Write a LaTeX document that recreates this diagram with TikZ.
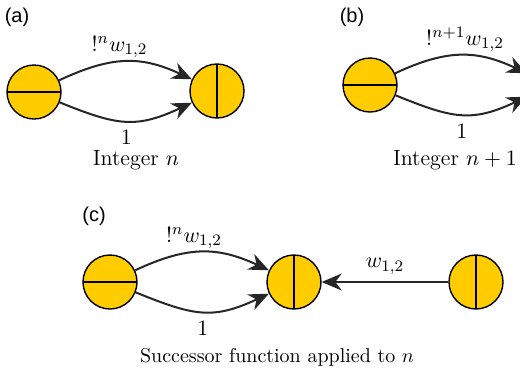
\documentclass[tikz,border=0pt]{standalone}
\usepackage{amsmath}
\usepackage{fontspec}
\newfontfamily\panelfont{Liberation Sans}
\usepackage{tikz}
\usetikzlibrary{arrows.meta}
\definecolor{nodegold}{RGB}{255,204,0}

\tikzset{
  hsplit/.style={circle,draw,line width=0.7pt,fill=nodegold,minimum size=27pt,inner sep=0pt,
    path picture={\draw[line width=0.7pt] (path picture bounding box.west) -- (path picture bounding box.east);}},
  vsplit/.style={circle,draw,line width=0.7pt,fill=nodegold,minimum size=27pt,inner sep=0pt,
    path picture={\draw[line width=0.7pt] (path picture bounding box.north) -- (path picture bounding box.south);}},
  link/.style={-{Stealth[length=10pt,width=8.5pt,inset=3.2pt]},line width=1pt,draw=black!85},
  lab/.style={font=\fontsize{11}{13}\selectfont},
  panel/.style={font=\panelfont\fontsize{10}{12}\selectfont},
}

\begin{document}
\begin{tikzpicture}[x=0.5pt,y=0.5pt]
  \useasboundingbox (0,0) rectangle (520,-376);
  \clip (0,0) rectangle (520,-376);

  % (a) Integer n
  \node[panel] (alab) at (17,-17) {(a)};
  \node[hsplit] (a1) at (34,-92) {};
  \node[vsplit] (a2) at (217,-91) {};
  \draw[link] (a1) to[out=25,in=155,looseness=1.1]
    node[lab,above=-2pt,xshift=-3pt] {$!^{n}w_{1,2}$} (a2);
  \draw[link] (a1) to[out=-22,in=-155,looseness=1.2]
    node[lab,below=1pt] {$1$} (a2);
  \node[lab] (acap) at (136,-160) {Integer $n$};

  % (b) Integer n+1 (right node runs off the edge)
  \node[panel] (blab) at (352,-17) {(b)};
  \node[hsplit] (b1) at (370,-85) {};
  \node[vsplit] (b2) at (552,-85) {};
  \draw[link] (b1) to[out=25,in=155,looseness=1.1]
    node[lab,above=-2pt,xshift=2pt] {$!^{n+1}w_{1,2}$} (b2);
  \draw[link] (b1) to[out=-22,in=-155,looseness=1.2]
    node[lab,below=1pt] {$1$} (b2);
  \node[lab] (bcap) at (455,-160) {Integer $n+1$};

  % (c) Successor
  \node[panel] (clab) at (94,-216) {(c)};
  \node[hsplit] (c1) at (110,-282) {};
  \node[vsplit] (c2) at (294,-282) {};
  \node[vsplit] (c3) at (476,-282) {};
  \draw[link] (c1) to[out=25,in=155,looseness=1.1]
    node[lab,above=-2pt,xshift=-4pt] {$!^{n}w_{1,2}$} (c2);
  \draw[link] (c1) to[out=-22,in=-155,looseness=1.2]
    node[lab,below=1pt] {$1$} (c2);
  \draw[link] (c3) -- node[lab,above] {$w_{1,2}$} (c2);
  \node (ccap) at (277,-357) {Successor function applied to $n$};
\end{tikzpicture}
\end{document}
